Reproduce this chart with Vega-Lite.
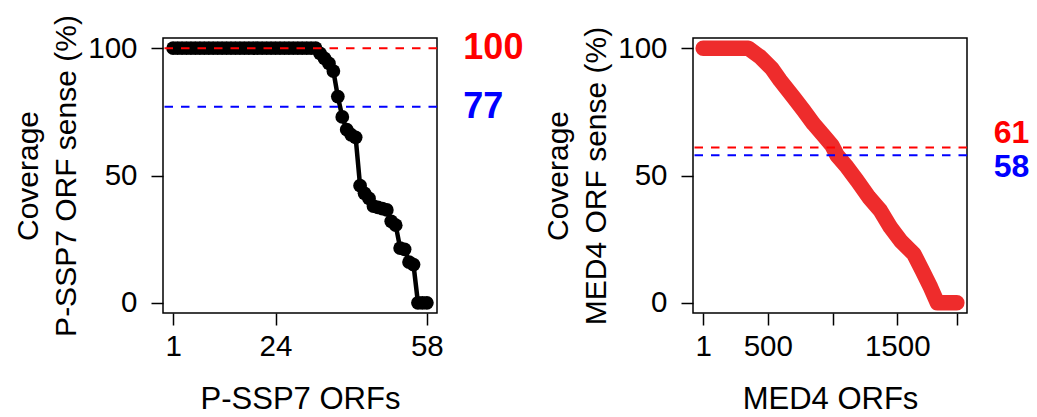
{
  "$schema": "https://vega.github.io/schema/vega-lite/v6.json",
  "padding": {"left": 12, "top": 13, "right": 0, "bottom": 0},
  "background": "white",
  "spacing": 256,
  "bounds": "flush",
  "config": {
    "font": "Liberation Sans",
    "view": {"stroke": "black", "strokeWidth": 1.5},
    "axis": {
      "grid": false, "domain": false, "ticks": true, "tickColor": "black", "tickSize": 12, "tickWidth": 1.5,
      "labelFont": "Liberation Sans", "labelFontSize": 29.5, "labelColor": "black", "labelOverlap": false, "labelFlush": false, "labelBound": false,
      "titleFont": "Liberation Sans", "titleFontSize": 30, "titleFontWeight": "normal", "titleColor": "black"
    }
  },
  "hconcat": [
    {
      "width": 274, "height": 275,
      "layer": [
        {
          "data": {"values": [
            {"i":1,"v":100},{"i":2,"v":100},{"i":3,"v":100},{"i":4,"v":100},{"i":5,"v":100},{"i":6,"v":100},{"i":7,"v":100},{"i":8,"v":100},{"i":9,"v":100},{"i":10,"v":100},
            {"i":11,"v":100},{"i":12,"v":100},{"i":13,"v":100},{"i":14,"v":100},{"i":15,"v":100},{"i":16,"v":100},{"i":17,"v":100},{"i":18,"v":100},{"i":19,"v":100},{"i":20,"v":100},
            {"i":21,"v":100},{"i":22,"v":100},{"i":23,"v":100},{"i":24,"v":100},{"i":25,"v":100},{"i":26,"v":100},{"i":27,"v":100},{"i":28,"v":100},{"i":29,"v":100},{"i":30,"v":100},
            {"i":31,"v":100},{"i":32,"v":100},{"i":33,"v":100},{"i":34,"v":98},{"i":35,"v":96},{"i":36,"v":94},{"i":37,"v":91},{"i":38,"v":81},{"i":39,"v":73},{"i":40,"v":68},
            {"i":41,"v":66},{"i":42,"v":65},{"i":43,"v":46},{"i":44,"v":43},{"i":45,"v":41},{"i":46,"v":38},{"i":47,"v":37.5},{"i":48,"v":37},{"i":49,"v":36.5},{"i":50,"v":32},
            {"i":51,"v":30.5},{"i":52,"v":21.5},{"i":53,"v":21},{"i":54,"v":16},{"i":55,"v":15},{"i":56,"v":0},{"i":57,"v":0},{"i":58,"v":0}
          ]},
          "layer": [
            {"mark": {"type": "line", "color": "black", "strokeWidth": 4.5}},
            {"mark": {"type": "point", "filled": true, "color": "black", "size": 190, "opacity": 1}}
          ],
          "encoding": {
            "x": {"field": "i", "type": "quantitative", "scale": {"domain": [-1.28, 60.28], "nice": false, "zero": false},
                  "axis": {"values": [1, 24, 58], "format": "d", "labelPadding": 7, "title": "P-SSP7 ORFs", "titleFontSize": 31, "titleBaseline": "alphabetic", "titleY": 95}},
            "y": {"field": "v", "type": "quantitative", "scale": {"domain": [-4, 104], "nice": false, "zero": false},
                  "axis": {"values": [0, 50, 100], "format": "d", "labelPadding": 14,
                           "title": ["Coverage\u00a0", "P-SSP7 ORF sense (%)"], "titleBaseline": "alphabetic", "titleLineHeight": 38, "titleX": -126, "titleY": 137.5, "titleAngle": -90, "titleAlign": "center"}}
          }
        },
        {
          "data": {"values": [{"y": 100, "c": "#FF0000"}, {"y": 77, "c": "#0000FF"}]},
          "mark": {"type": "rule", "strokeWidth": 2, "strokeDash": [8.5, 8]},
          "encoding": {"y": {"field": "y", "type": "quantitative"}, "color": {"field": "c", "type": "nominal", "scale": null}}
        },
        {
          "data": {"values": [{"x": 66.2, "y": 100, "t": "100", "c": "#FF0000"}, {"x": 66.2, "y": 77, "t": "77", "c": "#0000FF"}]},
          "mark": {"type": "text", "align": "left", "baseline": "middle", "fontSize": 36, "fontWeight": "bold", "clip": false},
          "encoding": {"x": {"field": "x", "type": "quantitative"}, "y": {"field": "y", "type": "quantitative"}, "text": {"field": "t"}, "color": {"field": "c", "type": "nominal", "scale": null}}
        }
      ]
    },
    {
      "width": 274, "height": 275,
      "layer": [
        {
          "data": {"values": [
            {"i":1,"v":100},{"i":350,"v":100},{"i":440,"v":96.6},{"i":531,"v":92},{"i":595,"v":87.4},{"i":698,"v":80.8},{"i":776,"v":75.6},{"i":853,"v":70.3},
            {"i":931,"v":65.7},{"i":996,"v":61.8},{"i":1035,"v":57.9},{"i":1112,"v":53.3},{"i":1190,"v":48},{"i":1280,"v":41.5},{"i":1370,"v":36.2},{"i":1448,"v":29.6},
            {"i":1525,"v":24.4},{"i":1628,"v":19.2},{"i":1694,"v":12.6},{"i":1758,"v":6},{"i":1810,"v":0},{"i":1960,"v":0}
          ]},
          "mark": {"type": "line", "color": "#EE2C2C", "strokeWidth": 15.5, "strokeCap": "round", "strokeJoin": "round"},
          "encoding": {
            "x": {"field": "i", "type": "quantitative", "scale": {"domain": [-77.4, 2038.4], "nice": false, "zero": false},
                  "axis": {"values": [1, 500, 1000, 1500, 1960], "format": "d", "labelExpr": "datum.value == 1000 || datum.value == 1960 ? '' : datum.label", "labelPadding": 7, "title": "MED4 ORFs", "titleFontSize": 31, "titleBaseline": "alphabetic", "titleY": 95}},
            "y": {"field": "v", "type": "quantitative", "scale": {"domain": [-4, 104], "nice": false, "zero": false},
                  "axis": {"values": [0, 50, 100], "format": "d", "labelPadding": 14,
                           "title": ["Coverage", "MED4 ORF sense (%)"], "titleBaseline": "alphabetic", "titleLineHeight": 38, "titleX": -126, "titleY": 137.5, "titleAngle": -90, "titleAlign": "center"}}
          }
        },
        {
          "data": {"values": [{"y": 61, "c": "#FF0000"}, {"y": 58, "c": "#0000FF"}]},
          "mark": {"type": "rule", "strokeWidth": 2, "strokeDash": [8.5, 8]},
          "encoding": {"y": {"field": "y", "type": "quantitative"}, "color": {"field": "c", "type": "nominal", "scale": null}}
        },
        {
          "data": {"values": [{"x": 2244, "y": 66.5, "t": "61", "c": "#FF0000"}, {"x": 2244, "y": 53.3, "t": "58", "c": "#0000FF"}]},
          "mark": {"type": "text", "align": "left", "baseline": "middle", "fontSize": 32, "fontWeight": "bold", "clip": false},
          "encoding": {"x": {"field": "x", "type": "quantitative"}, "y": {"field": "y", "type": "quantitative"}, "text": {"field": "t"}, "color": {"field": "c", "type": "nominal", "scale": null}}
        }
      ]
    }
  ]
}
